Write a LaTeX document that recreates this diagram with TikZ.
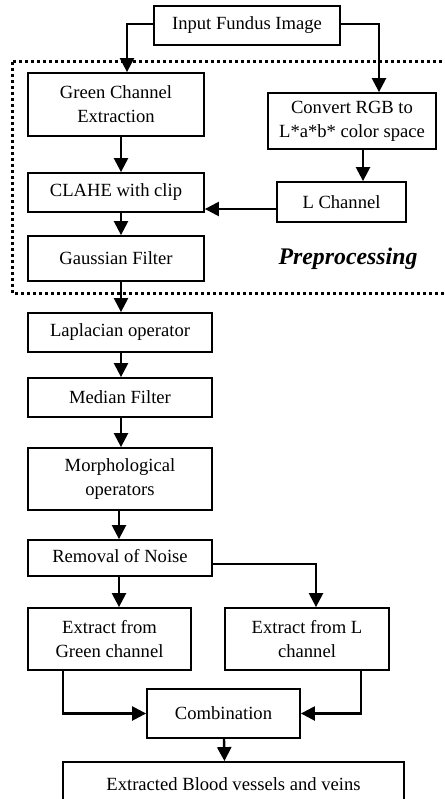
\documentclass[tikz,border=0pt]{standalone}
\usepackage{fontspec}
\setmainfont{Liberation Serif}
\usetikzlibrary{arrows.meta}
\begin{document}
\begin{tikzpicture}[x=1pt,y=-1pt,
  box/.style={draw, line width=1.8pt, inner sep=0pt, align=center,
    font=\fontsize{18.6}{24}\selectfont},
  arr/.style={draw, line width=2.4pt, -{Triangle[width=14pt,length=14pt]}},
  ln/.style={draw, line width=2.4pt}]
\useasboundingbox (0,0) rectangle (444,799);
\clip (0,0) rectangle (444,799);
\fill[white] (0,0) rectangle (444,799);
% dotted region
\draw[line width=3pt, dash pattern=on 3pt off 3pt] (12,62) rectangle (470,293);
\node[font=\fontsize{23.8}{26}\selectfont\bfseries\itshape] (pre) at (348,259) {Preprocessing};
% nodes
\node[box, minimum width=186pt, minimum height=39pt] (in) at (247,25.5) {Input Fundus Image};
\node[box, minimum width=176pt, minimum height=63pt] (green) at (116,104.5) {Green Channel\\Extraction};
\node[box, minimum width=168pt, minimum height=56pt] (conv) at (352,121) {Convert RGB to\\L*a*b* color space};
\node[box, minimum width=176pt, minimum height=39pt] (clahe) at (116,192.5) {CLAHE with clip};
\node[box, minimum width=129pt, minimum height=40pt] (lch) at (341.5,202) {L Channel};
\node[box, minimum width=176pt, minimum height=45pt] (gauss) at (116,258.5) {Gaussian Filter};
\node[box, minimum width=184pt, minimum height=39pt] (lap) at (120,332.5) {Laplacian operator};
\node[box, minimum width=184pt, minimum height=39pt] (med) at (120,397.5) {Median Filter};
\node[box, minimum width=184pt, minimum height=62pt] (morph) at (120,479) {Morphological\\operators};
\node[box, minimum width=184pt, minimum height=36pt] (noise) at (120,558) {\raisebox{4pt}{Removal of Noise}};
\node[box, minimum width=163pt, minimum height=62pt] (exg) at (109.5,639) {Extract from\\Green channel};
\node[box, minimum width=164pt, minimum height=62pt] (exl) at (307,639) {Extract from L\\channel};
\node[box, minimum width=153pt, minimum height=49pt] (comb) at (223.5,713.5) {Combination};
\node[box, minimum width=341pt, minimum height=44pt] (final) at (233.5,784) {Extracted Blood vessels and veins};
% connectors
\draw[arr] ([yshift=1.5pt]in.west) -| ([xshift=11pt]green.north);
\draw[arr] ([yshift=1.5pt]in.east) -| ([xshift=27pt]conv.north);
\draw[arr] ([xshift=5pt]green.south) -- ([xshift=5pt]clahe.north);
\draw[arr] ([xshift=11pt]conv.south) -- ([xshift=11pt]conv.south |- lch.north);
\draw[arr] ([yshift=-7pt]lch.west) -- ([yshift=-7pt]lch.west -| clahe.east);
\draw[arr] ([xshift=5pt]clahe.south) -- ([xshift=5pt]gauss.north);
\draw[arr] ([xshift=5pt]gauss.south) -- ([xshift=1pt]lap.north);
\draw[arr] ([xshift=1pt]lap.south) -- ([xshift=1pt]med.north);
\draw[arr] ([xshift=1pt]med.south) -- ([xshift=1pt]morph.north);
\draw[arr] ([xshift=-1pt]morph.south) -- ([xshift=-1pt]noise.north);
\draw[arr] ([xshift=-1pt]noise.south) -- ([xshift=9.5pt]exg.north);
\draw[arr] ([yshift=-6pt]noise.east) -| ([xshift=9pt]exl.north);
\draw[arr] ([xshift=-46.5pt]exg.south) |- (comb.west);
\draw[arr] ([xshift=54pt]exl.south) |- (comb.east);
\draw[arr] ([xshift=0.5pt]comb.south) -- ([xshift=-9pt]final.north);
\end{tikzpicture}
\end{document}
